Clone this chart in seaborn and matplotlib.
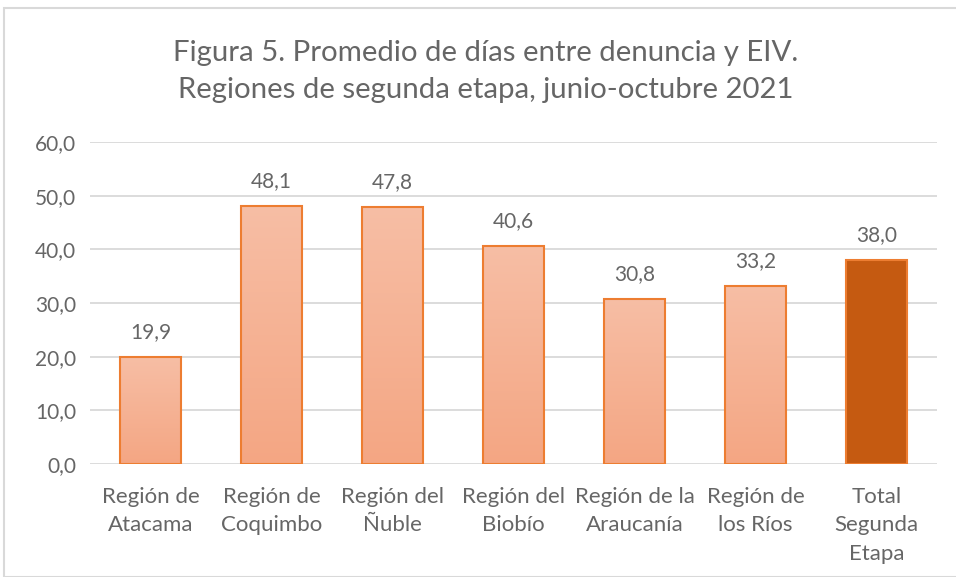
import matplotlib
matplotlib.use("Agg")
import matplotlib.pyplot as plt
import seaborn as sns
import numpy as np
import pandas as pd
from matplotlib.patches import Rectangle
from matplotlib.colors import LinearSegmentedColormap

categories = ["Región de\nAtacama", "Región de\nCoquimbo", "Región del\nÑuble",
              "Región del\nBiobío", "Región de la\nAraucanía", "Región de\nlos Ríos",
              "Total\nSegunda\nEtapa"]
values = [19.9, 48.1, 47.8, 40.6, 30.8, 33.2, 38.0]
value_labels = ["19,9", "48,1", "47,8", "40,6", "30,8", "33,2", "38,0"]
y_ticks = [0, 10, 20, 30, 40, 50, 60]
y_tick_labels = ["0,0", "10,0", "20,0", "30,0", "40,0", "50,0", "60,0"]
title = "Figura 5. Promedio de días entre denuncia y EIV.\nRegiones de segunda etapa, junio-octubre 2021"

sns.set_theme(style="white")
plt.rcParams['font.family'] = ['Lato', 'DejaVu Sans']
text_col = "#666666"

df = pd.DataFrame({"cat": categories, "val": values})
fig = plt.figure(figsize=(9.56, 5.77), dpi=100)
ax = fig.add_axes([90/956, 1-464/577, (937-90)/956, (464-142)/577])

sns.barplot(data=df, x="cat", y="val", ax=ax, width=0.5, color="#F4B183",
            edgecolor="#ED7D31", linewidth=1.5, zorder=3)

ax.set_yticks(y_ticks)
ax.set_yticklabels(y_tick_labels, color=text_col, fontsize=15)
ax.tick_params(axis="x", colors=text_col, labelsize=16, length=0, pad=16.5)
ax.tick_params(axis="y", length=0, pad=10)
for lbl in ax.get_xticklabels():
    lbl.set_color(text_col)
    lbl.set_linespacing(1.53)
    lbl.set_verticalalignment("top")
ax.set_xlabel("")
ax.set_ylabel("")
for s in ax.spines.values():
    s.set_visible(False)
ax.yaxis.grid(True, color="#D9D9D9", linewidth=1.3, zorder=0)
ax.set_axisbelow(True)

grad = np.linspace(0, 1, 256).reshape(-1, 1)
cmap = LinearSegmentedColormap.from_list("g", ["#F4A683", "#F7BEA5"])
for i, p in enumerate(ax.patches):
    x0, y0 = p.get_x(), p.get_y()
    w, h = p.get_width(), p.get_height()
    if i == len(ax.patches) - 1:
        p.set_facecolor("#C55A11")
    else:
        p.set_facecolor("none")
        im = ax.imshow(grad, extent=[x0, x0 + w, y0, y0 + h], origin="lower",
                       cmap=cmap, aspect="auto", zorder=2.5)
        im.set_clip_path(p)
    ax.text(x0 + w / 2, h + 2.8, value_labels[i], ha="center", va="bottom",
            color=text_col, fontsize=15, zorder=4)
ax.set_xlim(-0.5, len(categories) - 0.5)
ax.set_ylim(0, 60)

fig.text(486/956, 1-71.5/577, title, ha="center", va="center", color=text_col,
         fontsize=21.2, linespacing=1.5)

fig.patches.append(Rectangle((4/956, 0), 1, 1-8/577, transform=fig.transFigure,
                             fill=False, edgecolor="#D9D9D9", linewidth=1.5))

fig.savefig("out.png", dpi=100)
